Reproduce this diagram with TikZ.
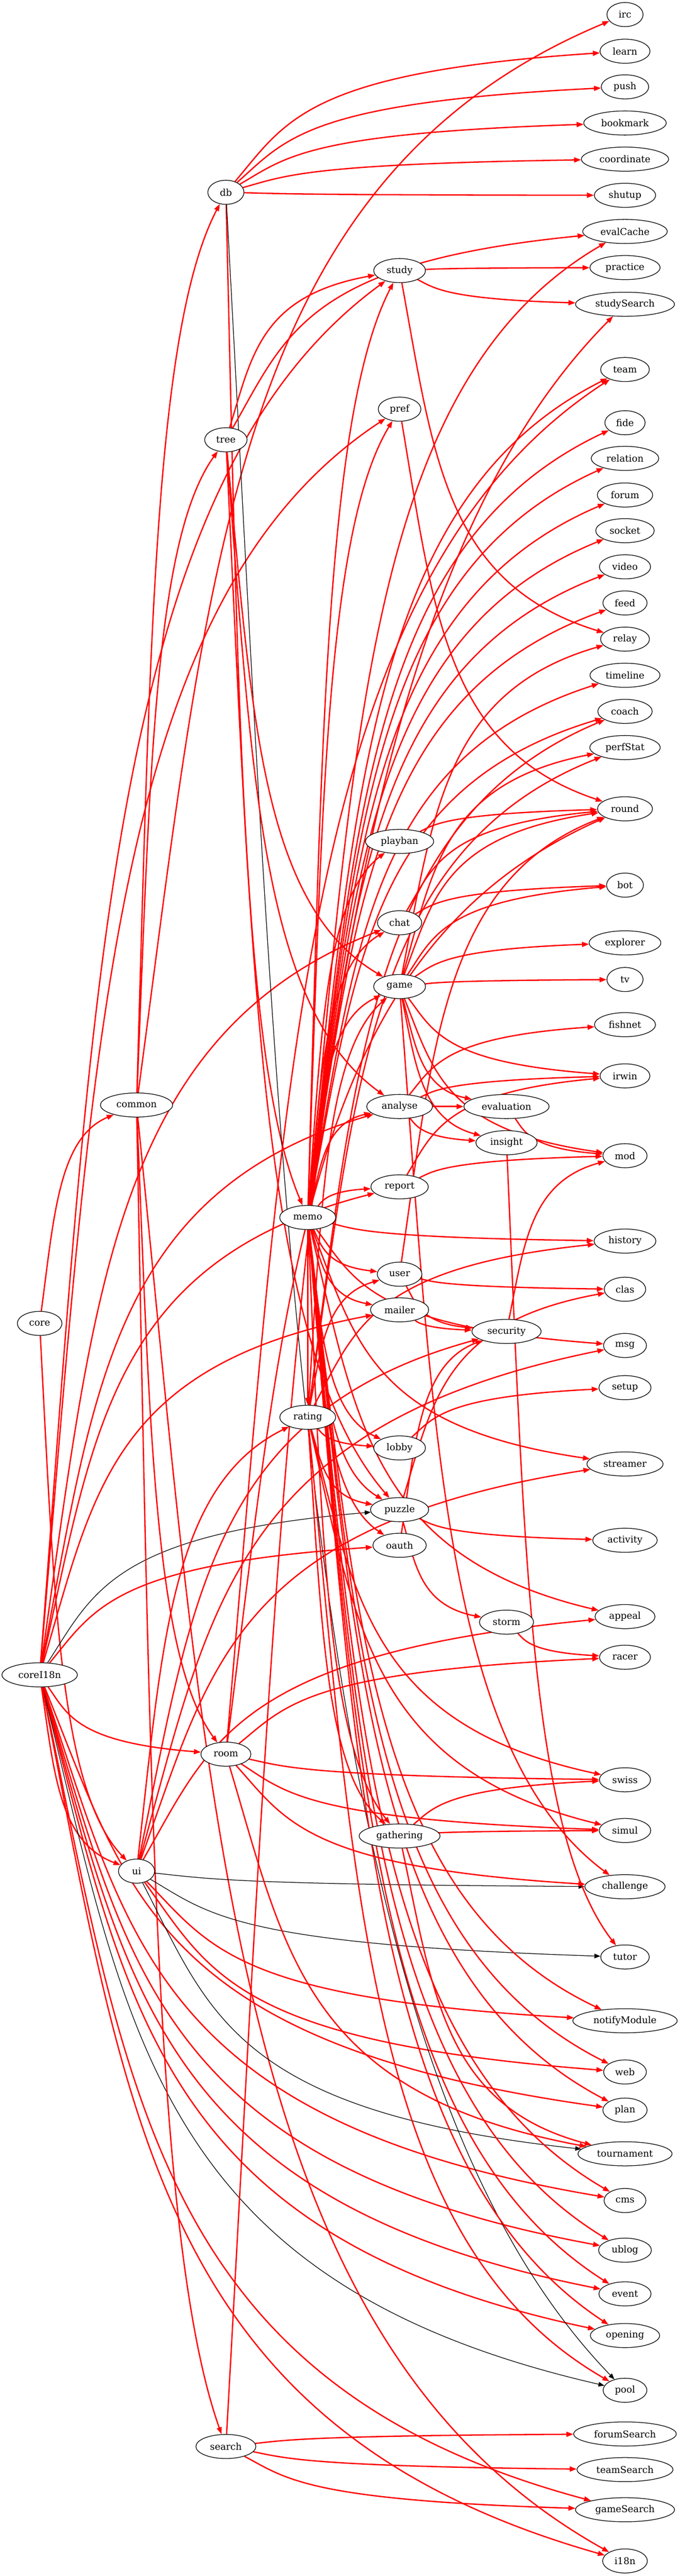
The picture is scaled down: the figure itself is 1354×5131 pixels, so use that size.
\documentclass[tikz,border=0pt]{standalone}
\usepackage{fontspec}
\setmainfont{DejaVu Serif}
\usetikzlibrary{shapes.geometric,arrows.meta,calc,backgrounds}

\tikzset{
  module/.style={ellipse, draw=black, line width=1.3pt, fill=white,
    minimum width=72pt, minimum height=48pt, inner xsep=10.6pt, inner ysep=5.3pt,
    font=\fontsize{18.7}{22}\selectfont},
  lr/.style={to path={let \p1=(\tikztostart), \p2=(\tikztotarget),
    \n1={\x2-\x1}, \n2={\y2-\y1} in
    (\tikztostart) .. controls +({0.15*(\n1)},{0.5*(\n2)}) and +({-0.8*(\n1)},{-0.15*(\n2)}) .. (\tikztotarget)}},
  dep/.style={lr, draw=red, line width=2.6pt, -{Triangle[length=14pt,width=10pt]}},
  weak/.style={lr, draw=black, line width=1.3pt, -{Triangle[length=12pt,width=9pt]}}
}

\begin{document}
\begin{tikzpicture}[x=1pt,y=1pt]
	\useasboundingbox (0,0) rectangle (1354,-5131);
	% sources
	\node [module] (core) at (79,-2636) {core};
	\node [module] (coreI18n) at (79,-3336) {coreI18n};
	\node [module] (common) at (272,-2201) {common};
	\node [module] (ui) at (272,-3727) {ui};
	\node [module] (db) at (450,-383) {db};
	\node [module] (tree) at (450,-876) {tree};
	\node [module] (room) at (450,-3494) {room};
	\node [module] (search) at (450,-4873) {search};
	\node [module] (memo) at (613,-2425) {memo};
	\node [module] (rating) at (613,-2823) {rating};
	% middle ranks
	\node [module] (study) at (796,-539) {study};
	\node [module] (pref) at (796,-815) {pref};
	\node [module] (playban) at (796,-1676) {playban};
	\node [module] (chat) at (796,-1838) {chat};
	\node [module] (game) at (796,-1965) {game};
	\node [module] (analyse) at (796,-2204) {analyse};
	\node [module] (report) at (796,-2364) {report};
	\node [module] (user) at (796,-2538) {user};
	\node [module] (mailer) at (796,-2609) {mailer};
	\node [module] (lobby) at (796,-2884) {lobby};
	\node [module] (puzzle) at (796,-3007) {puzzle};
	\node [module] (oauth) at (796,-3078) {oauth};
	\node [module] (gathering) at (796,-3657) {gathering};
	\node [module] (evaluation) at (1009,-2204) {evaluation};
	\node [module] (insight) at (1009,-2276) {insight};
	\node [module] (security) at (1009,-2652) {security};
	\node [module] (storm) at (1009,-3231) {storm};
	% sinks
	\node [module] (irc) at (1245,-29) {irc};
	\node [module] (learn) at (1245,-102) {learn};
	\node [module] (push) at (1245,-173) {push};
	\node [module] (bookmark) at (1245,-245) {bookmark};
	\node [module] (coordinate) at (1245,-317) {coordinate};
	\node [module] (shutup) at (1245,-389) {shutup};
	\node [module] (evalCache) at (1245,-461) {evalCache};
	\node [module] (practice) at (1245,-533) {practice};
	\node [module] (studySearch) at (1245,-606) {studySearch};
	\node [module] (team) at (1245,-736) {team};
	\node [module] (fide) at (1245,-842) {fide};
	\node [module] (relation) at (1245,-913) {relation};
	\node [module] (forum) at (1245,-986) {forum};
	\node [module] (socket) at (1245,-1057) {socket};
	\node [module] (video) at (1245,-1129) {video};
	\node [module] (feed) at (1245,-1201) {feed};
	\node [module] (relay) at (1245,-1273) {relay};
	\node [module] (timeline) at (1245,-1345) {timeline};
	\node [module] (coach) at (1245,-1417) {coach};
	\node [module] (perfStat) at (1245,-1489) {perfStat};
	\node [module] (round) at (1245,-1611) {round};
	\node [module] (bot) at (1245,-1763) {bot};
	\node [module] (explorer) at (1245,-1878) {explorer};
	\node [module] (tv) at (1245,-1951) {tv};
	\node [module] (fishnet) at (1245,-2041) {fishnet};
	\node [module] (irwin) at (1245,-2143) {irwin};
	\node [module] (mod) at (1245,-2302) {mod};
	\node [module] (history) at (1245,-2472) {history};
	\node [module] (clas) at (1245,-2568) {clas};
	\node [module] (msg) at (1245,-2680) {msg};
	\node [module] (setup) at (1245,-2764) {setup};
	\node [module] (streamer) at (1245,-2916) {streamer};
	\node [module] (activity) at (1245,-3068) {activity};
	\node [module] (appeal) at (1245,-3220) {appeal};
	\node [module] (racer) at (1245,-3301) {racer};
	\node [module] (swiss) at (1245,-3545) {swiss};
	\node [module] (simul) at (1245,-3646) {simul};
	\node [module] (challenge) at (1245,-3758) {challenge};
	\node [module] (tutor) at (1245,-3898) {tutor};
	\node [module] (notifyModule) at (1245,-4025) {notifyModule};
	\node [module] (web) at (1245,-4127) {web};
	\node [module] (plan) at (1245,-4203) {plan};
	\node [module] (tournament) at (1245,-4290) {tournament};
	\node [module] (cms) at (1245,-4383) {cms};
	\node [module] (ublog) at (1245,-4482) {ublog};
	\node [module] (event) at (1245,-4569) {event};
	\node [module] (opening) at (1245,-4652) {opening};
	\node [module] (pool) at (1245,-4761) {pool};
	\node [module] (forumSearch) at (1245,-4848) {forumSearch};
	\node [module] (teamSearch) at (1245,-4919) {teamSearch};
	\node [module] (gameSearch) at (1245,-4999) {gameSearch};
	\node [module] (i18n) at (1245,-5101) {i18n};
	\begin{scope}[on background layer]
	% core, coreI18n
	\draw [dep] (core) to (common);
	\draw [dep] (core) to (ui);
	\draw [dep] (coreI18n) to (ui);
	\draw [dep] (coreI18n) to (room);
	\draw [dep] (coreI18n) to (study);
	\draw [dep] (coreI18n) to (pref);
	\draw [dep] (coreI18n) to (chat);
	\draw [dep] (coreI18n) to (analyse);
	\draw [dep] (coreI18n) to (report);
	\draw [dep] (coreI18n) to (mailer);
	\draw [dep] (coreI18n) to (oauth);
	\draw [weak] (coreI18n) to (puzzle);
	\draw [dep] (coreI18n) to (plan);
	\draw [dep] (coreI18n) to (cms);
	\draw [dep] (coreI18n) to (ublog);
	\draw [dep] (coreI18n) to (event);
	\draw [dep] (coreI18n) to (opening);
	\draw [weak] (coreI18n) to (pool);
	\draw [dep] (coreI18n) to (gameSearch);
	\draw [dep] (coreI18n) to (i18n);
	% common, ui
	\draw [dep] (common) to (db);
	\draw [dep] (common) to (tree);
	\draw [dep] (common) to (room);
	\draw [dep] (common) to (search);
	\draw [dep] (common) to (irc);
	\draw [dep] (common) to (i18n);
	\draw [dep] (ui) to (rating);
	\draw [dep] (ui) to (security);
	\draw [dep] (ui) to (msg);
	\draw [dep] (ui) to (streamer);
	\draw [dep] (ui) to (appeal);
	\draw [dep] (ui) to (notifyModule);
	\draw [dep] (ui) to (web);
	\draw [weak] (ui) to (challenge);
	\draw [weak] (ui) to (tutor);
	\draw [weak] (ui) to (tournament);
	% db, tree, room, search
	\draw [dep] (db) to (memo);
	\draw [dep] (db) to (learn);
	\draw [dep] (db) to (push);
	\draw [dep] (db) to (bookmark);
	\draw [dep] (db) to (coordinate);
	\draw [dep] (db) to (shutup);
	\draw [weak] (db) to (pool);
	\draw [dep] (tree) to (study);
	\draw [dep] (tree) to (game);
	\draw [dep] (tree) to (analyse);
	\draw [dep] (tree) to (puzzle);
	\draw [dep] (tree) to (evalCache);
	\draw [dep] (room) to (team);
	\draw [dep] (room) to (round);
	\draw [dep] (room) to (racer);
	\draw [dep] (room) to (swiss);
	\draw [dep] (room) to (simul);
	\draw [dep] (room) to (challenge);
	\draw [dep] (room) to (tournament);
	\draw [dep] (search) to (forumSearch);
	\draw [dep] (search) to (teamSearch);
	\draw [dep] (search) to (gameSearch);
	\draw [dep] (search) to (studySearch);
	% memo
	\draw [dep] (memo) to (rating);
	\draw [dep] (memo) to (study);
	\draw [dep] (memo) to (pref);
	\draw [dep] (memo) to (playban);
	\draw [dep] (memo) to (chat);
	\draw [dep] (memo) to (game);
	\draw [dep] (memo) to (analyse);
	\draw [dep] (memo) to (report);
	\draw [dep] (memo) to (user);
	\draw [dep] (memo) to (mailer);
	\draw [dep] (memo) to (lobby);
	\draw [dep] (memo) to (puzzle);
	\draw [dep] (memo) to (oauth);
	\draw [dep] (memo) to (gathering);
	\draw [dep] (memo) to (evalCache);
	\draw [dep] (memo) to (team);
	\draw [dep] (memo) to (fide);
	\draw [dep] (memo) to (relation);
	\draw [dep] (memo) to (forum);
	\draw [dep] (memo) to (socket);
	\draw [dep] (memo) to (video);
	\draw [dep] (memo) to (feed);
	\draw [dep] (memo) to (timeline);
	\draw [dep] (memo) to (coach);
	\draw [dep] (memo) to (history);
	\draw [dep] (memo) to (msg);
	\draw [dep] (memo) to (streamer);
	\draw [dep] (memo) to (appeal);
	\draw [dep] (memo) to (notifyModule);
	\draw [dep] (memo) to (web);
	\draw [dep] (memo) to (plan);
	\draw [dep] (memo) to (cms);
	\draw [dep] (memo) to (ublog);
	\draw [dep] (memo) to (event);
	\draw [dep] (memo) to (opening);
	% rating
	\draw [dep] (rating) to (user);
	\draw [dep] (rating) to (lobby);
	\draw [dep] (rating) to (puzzle);
	\draw [dep] (rating) to (gathering);
	\draw [dep] (rating) to (game);
	\draw [dep] (rating) to (coach);
	\draw [dep] (rating) to (perfStat);
	\draw [dep] (rating) to (history);
	\draw [dep] (rating) to (pool);
	\draw [dep] (rating) to (swiss);
	\draw [dep] (rating) to (simul);
	% middle ranks
	\draw [dep] (study) to (practice);
	\draw [dep] (study) to (studySearch);
	\draw [dep] (study) to (relay);
	\draw [dep] (pref) to (round);
	\draw [dep] (playban) to (round);
	\draw [dep] (chat) to (round);
	\draw [dep] (chat) to (bot);
	\draw [dep] (game) to (round);
	\draw [dep] (game) to (relay);
	\draw [dep] (game) to (perfStat);
	\draw [dep] (game) to (bot);
	\draw [dep] (game) to (explorer);
	\draw [dep] (game) to (tv);
	\draw [dep] (game) to (irwin);
	\draw [dep] (game) to (mod);
	\draw [dep] (game) to (evaluation);
	\draw [dep] (game) to (insight);
	\draw [dep] (game) to (challenge);
	\draw [dep] (analyse) to (evaluation);
	\draw [dep] (analyse) to (insight);
	\draw [dep] (analyse) to (fishnet);
	\draw [dep] (analyse) to (irwin);
	\draw [dep] (evaluation) to (mod);
	\draw [dep] (insight) to (tutor);
	\draw [dep] (report) to (irwin);
	\draw [dep] (report) to (mod);
	\draw [dep] (user) to (round);
	\draw [dep] (user) to (clas);
	\draw [dep] (user) to (security);
	\draw [dep] (mailer) to (security);
	\draw [dep] (oauth) to (security);
	\draw [dep] (security) to (mod);
	\draw [dep] (lobby) to (setup);
	\draw [dep] (puzzle) to (activity);
	\draw [dep] (puzzle) to (storm);
	\draw [dep] (puzzle) to (clas);
	\draw [dep] (storm) to (racer);
	\draw [dep] (gathering) to (swiss);
	\draw [dep] (gathering) to (simul);
	\draw [dep] (gathering) to (tournament);
	\end{scope}
\end{tikzpicture}
\end{document}
